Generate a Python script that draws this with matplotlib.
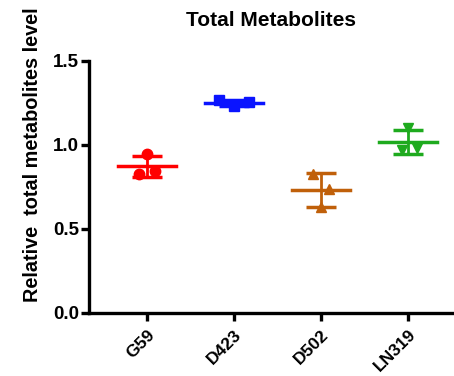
import numpy as np
import matplotlib
matplotlib.use('Agg')
import matplotlib.pyplot as plt

# data
groups = ['G59', 'D423', 'D502', 'LN319']
values = [
    [0.945, 0.827, 0.847],
    [1.265, 1.232, 1.258],
    [0.830, 0.740, 0.630],
    [1.100, 0.970, 0.985],
]
jitter = [
    [0.0, -0.09, 0.09],
    [-0.17, 0.0, 0.17],
    [-0.09, 0.09, 0.0],
    [0.0, -0.07, 0.10],
]
colors = ['#ff0000', '#0a14ff', '#c0600a', '#1eaa1e']
markers = ['o', 's', '^', 'v']

plt.rcParams['font.family'] = ['Liberation Sans', 'DejaVu Sans']
plt.rcParams['font.weight'] = 'bold'

fig = plt.figure(figsize=(4.54, 3.76), dpi=100)
ax = fig.add_axes([0.196, 0.1676, 0.804, 0.6702])

for i, name in enumerate(groups):
    x = i + 1
    v = np.array(values[i])
    m = v.mean()
    sd = v.std(ddof=1)
    ax.plot(x + np.array(jitter[i]), v, linestyle='none', marker=markers[i],
            color=colors[i], markersize=7.5, zorder=3)
    ax.plot([x - 0.33, x + 0.33], [m, m], color=colors[i], lw=2.5, zorder=2)
    ax.errorbar(x, m, yerr=sd, color=colors[i], capsize=11, capthick=2.5,
                elinewidth=2.0, fmt='none', zorder=2)

ax.set_xlim(0.333, 4.53)
ax.set_ylim(0, 1.5)
ax.set_yticks([0.0, 0.5, 1.0, 1.5])
ax.set_yticklabels(['0.0', '0.5', '1.0', '1.5'])
ax.set_xticks(range(1, len(groups) + 1))
ax.set_xticklabels(groups, rotation=45, ha='right', rotation_mode='anchor',
                   fontsize=12.5)

for s in ['top', 'right']:
    ax.spines[s].set_visible(False)
for s in ['left', 'bottom']:
    ax.spines[s].set_linewidth(2.4)
ax.tick_params(width=2.4, length=6)
ax.tick_params(axis='y', pad=1, labelsize=13.5)
ax.tick_params(axis='x', pad=4)

fig.text(33 / 454, 1 - 155 / 376, 'Relative  total metabolites level', fontsize=14.3,
         fontweight='bold', rotation=90, ha='center', va='center')
fig.text(0.598, 1 - 20 / 376, 'Total Metabolites', fontsize=15, fontweight='bold',
         ha='center', va='center')

fig.savefig('out.png', dpi=100)
